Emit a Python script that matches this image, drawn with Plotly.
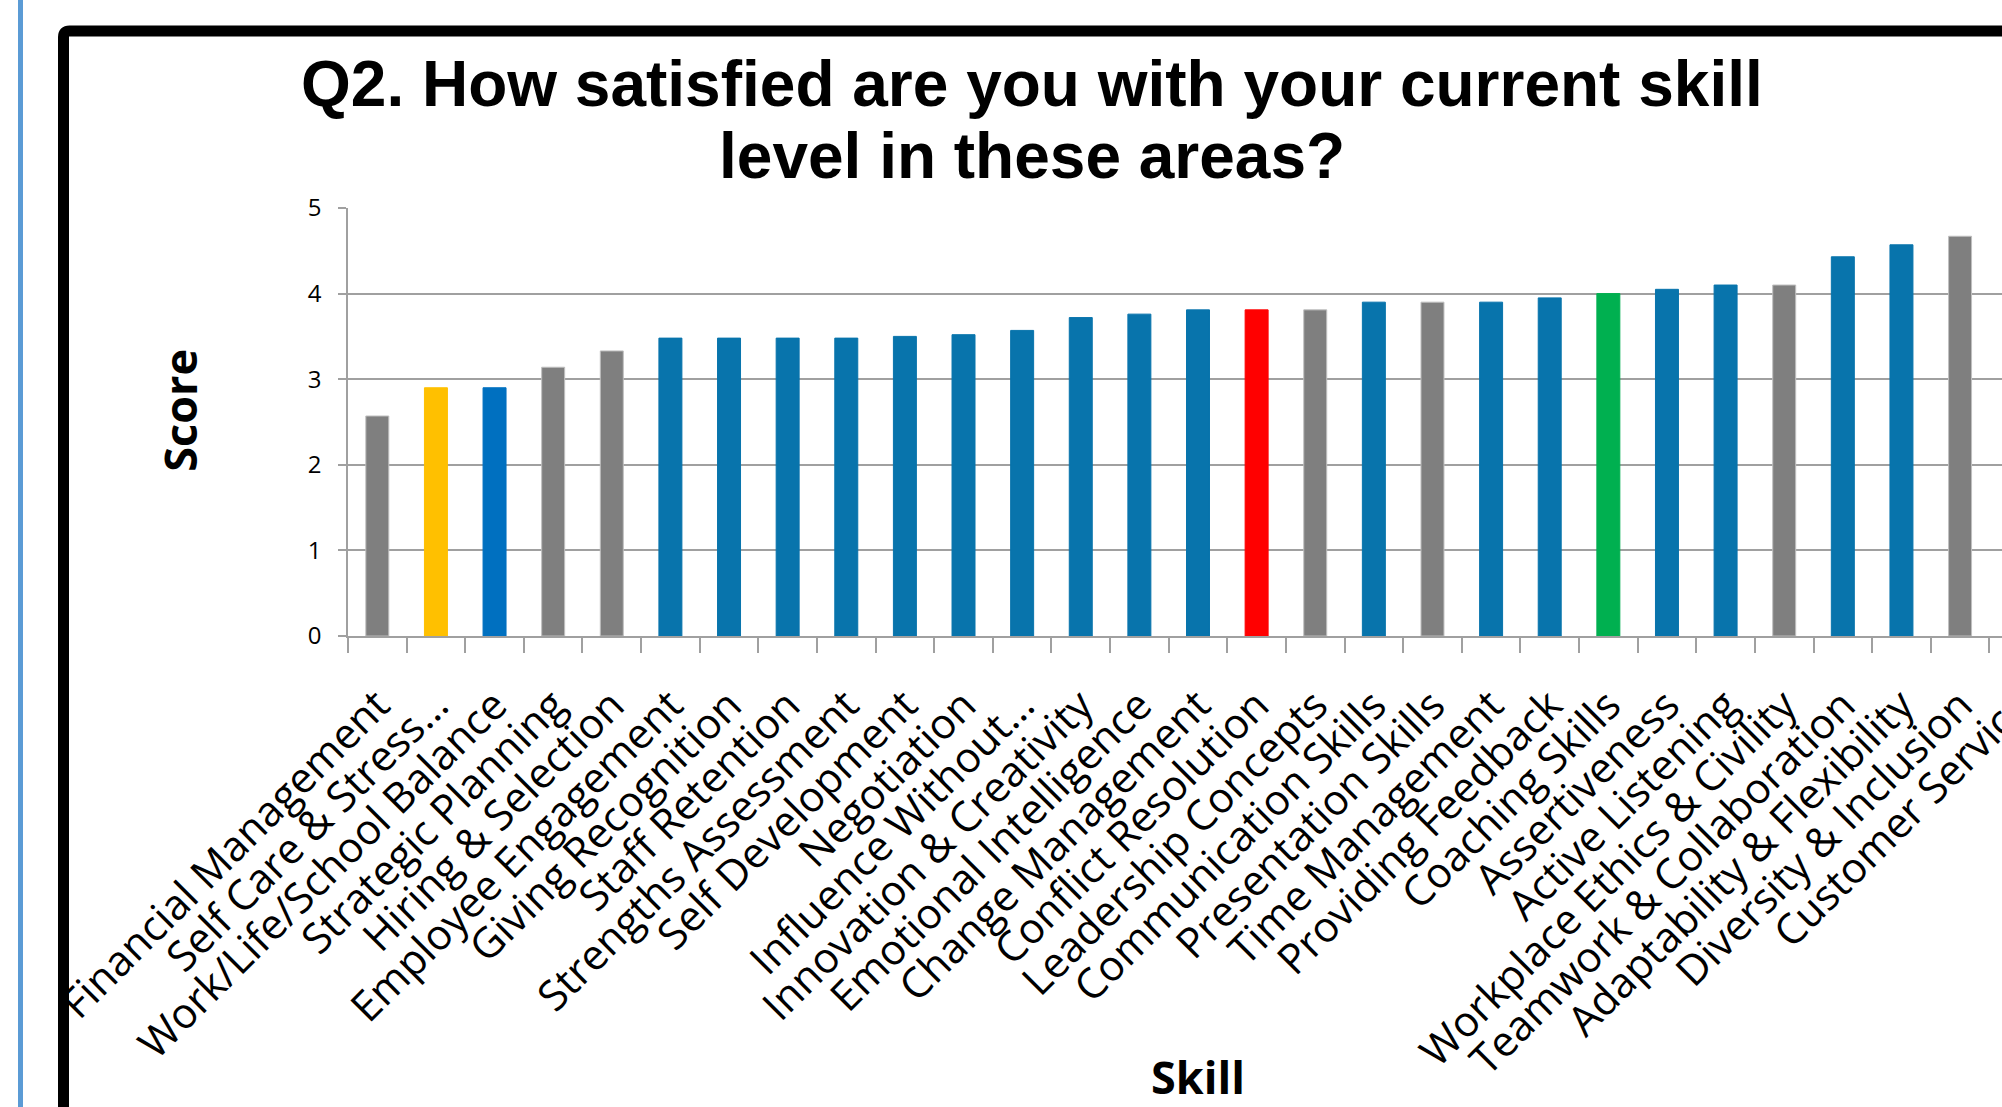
import plotly.graph_objects as go

# ---------------- data ----------------
skills = [
    "Financial Management", "Self Care & Stress…", "Work/Life/School Balance",
    "Strategic Planning", "Hiring & Selection", "Employee Engagement",
    "Giving Recognition", "Staff Retention", "Strengths Assessment",
    "Self Development", "Negotiation", "Influence Without…",
    "Innovation & Creativity", "Emotional Intelligence", "Change Management",
    "Conflict Resolution", "Leadership Concepts", "Communication Skills",
    "Presentation Skills", "Time Management", "Providing Feedback",
    "Coaching Skills", "Assertiveness", "Active Listening",
    "Workplace Ethics & Civility", "Teamwork & Collaboration",
    "Adaptability & Flexibility", "Diversity & Inclusion", "Customer Service",
]
scores = [
    2.57, 2.90, 2.90, 3.14, 3.33, 3.48, 3.48, 3.48, 3.48, 3.50,
    3.52, 3.57, 3.72, 3.76, 3.81, 3.81, 3.81, 3.90, 3.90, 3.90,
    3.95, 4.00, 4.05, 4.10, 4.10, 4.43, 4.57, 4.67, 4.76,
]
y_ticks = [0, 1, 2, 3, 4, 5]

# ---------------- styles ----------------
GRAY, TEAL, BLUE, YEL, RED, GRN = "#7F7F7F", "#0874AC", "#0070C0", "#FFC000", "#FF0000", "#00B050"
bar_colors = [GRAY, YEL, BLUE, GRAY, GRAY, TEAL, TEAL, TEAL, TEAL, TEAL,
              TEAL, TEAL, TEAL, TEAL, TEAL, RED, GRAY, TEAL, GRAY, TEAL,
              TEAL, GRN, TEAL, TEAL, GRAY, TEAL, TEAL, GRAY, GRAY]
line_colors = ["#BFBFBF" if c == GRAY else c for c in bar_colors]

AXIS = "#A0A0A0"
W, H = 2048, 1107
L, R, T, B = 348, 0, 208, 471
PW, PH = W - L - R, H - T - B


def px(x):
    return (x - L) / PW


def py(y):
    return (H - B - y) / PH


fig = go.Figure(go.Bar(
    x=skills, y=scores,
    marker=dict(color=bar_colors, line=dict(color=line_colors, width=1)),
    hoverinfo="x+y",
))

# frame (rounded black border, cut by the picture edges) and blue side rule
r = 6
frame_path = (f"M {px(63.5)},{py(1300)} L {px(63.5)},{py(31 + r)} "
              f"Q {px(63.5)},{py(31)} {px(63.5 + r)},{py(31)} L {px(2300)},{py(31)}")
shapes = [
    dict(type="path", xref="paper", yref="paper", path=frame_path,
         line=dict(color="black", width=11), layer="above"),
    dict(type="line", xref="paper", yref="paper", x0=px(20.5), x1=px(20.5),
         y0=py(-10), y1=py(1200), line=dict(color="#5B9BD5", width=5)),
]

title_font = dict(family="Liberation Sans, Arial", size=64, color="black")
annotations = [
    dict(text="<b>Q2. How satisfied are you with your current skill</b>",
         xref="paper", yref="paper", x=px(1032), y=py(83.8),
         xanchor="center", yanchor="middle", showarrow=False, font=title_font),
    dict(text="<b>level in these areas?</b>",
         xref="paper", yref="paper", x=px(1032), y=py(156.3),
         xanchor="center", yanchor="middle", showarrow=False, font=title_font),
]

fig.update_layout(
    width=W, height=H,
    margin=dict(l=L, r=R, t=T, b=B, autoexpand=False),
    paper_bgcolor="white", plot_bgcolor="white",
    showlegend=False, bargap=0.608,
    shapes=shapes, annotations=annotations,
    font=dict(family="Open Sans", color="black"),
)
fig.update_xaxes(
    type="category", range=[-0.5, len(skills) - 0.5], automargin=False,
    tickangle=-45, tickfont=dict(family="Open Sans", size=42, color="black"),
    ticks="outside", tickson="boundaries", ticklen=15, tickwidth=1.5, tickcolor=AXIS,
    ticklabelstandoff=26,
    showline=True, linecolor=AXIS, linewidth=1.5, showgrid=False,
    title=dict(text="<b>Skill</b>", font=dict(family="Open Sans", size=45, color="black"),
               standoff=0),
)
fig.update_yaxes(
    range=[0, 5], tickvals=y_ticks, automargin=False,
    tickfont=dict(family="Open Sans", size=24, color="black"),
    ticks="outside", ticklen=8, tickwidth=1.5, tickcolor=AXIS, ticklabelstandoff=12,
    showline=True, linecolor=AXIS, linewidth=1.5,
    showgrid=True, gridcolor=AXIS, gridwidth=1.5, zeroline=False,
    title=dict(text="<b>\u00a0\u00a0Score</b>", font=dict(family="Open Sans", size=45, color="black"),
               standoff=96),
)

fig.write_html(
    "out.html",
    config={"displayModeBar": False},
    post_script="document.body.style.margin='0';document.body.style.overflow='hidden';"
                "document.documentElement.style.overflow='hidden';",
)
